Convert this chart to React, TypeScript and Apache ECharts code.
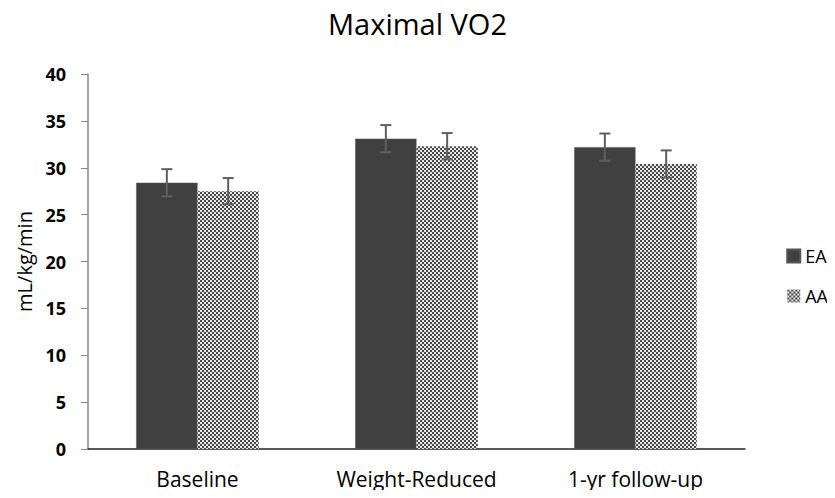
import React, { useEffect, useRef } from "react";
import * as echarts from "echarts";

const categories = ["Baseline", "Weight-Reduced", "1-yr follow-up"];
const eaValues = [28.4, 33.1, 32.2];
const aaValues = [27.5, 32.3, 30.4];
const eaErr = [1.45, 1.45, 1.45];
const aaErr = [1.4, 1.4, 1.45];
const yTicks = [0, 5, 10, 15, 20, 25, 30, 35, 40];

const FONT = "'Open Sans', 'Noto Sans', sans-serif";
const GAP = 0.44;

function makePattern() {
  const c = document.createElement("canvas");
  c.width = 4;
  c.height = 4;
  const ctx = c.getContext("2d")!;
  ctx.fillStyle = "#e6e6e6";
  ctx.fillRect(0, 0, 4, 4);
  ctx.fillStyle = "#4a4a4a";
  ctx.fillRect(0, 0, 2, 2);
  ctx.fillRect(2, 2, 2, 2);
  return c;
}

export default function App() {
  const ref = useRef<HTMLDivElement>(null);
  useEffect(() => {
    if (!ref.current) return;
    const chart = echarts.init(ref.current, undefined, { renderer: "svg" });
    const pattern = makePattern();
    const errSeries = (vals: number[], errs: number[], sign: number, name: string) => ({
      type: "custom",
      name,
      z: 10,
      silent: true,
      data: vals.map((v, i) => [i, v, errs[i]]),
      renderItem: (params: any, api: any) => {
        const i = api.value(0);
        const v = api.value(1);
        const e = api.value(2);
        const band = api.size([1, 0])[0];
        const off = (band * (1 - GAP)) / 4;
        const c = api.coord([i, v]);
        const x = c[0] + sign * off;
        const yTop = api.coord([i, v + e])[1];
        const yBot = api.coord([i, v - e])[1];
        const hw = 5.5;
        const style = { stroke: "#5f5f5f", lineWidth: 2 };
        return {
          type: "group",
          children: [
            { type: "line", shape: { x1: x, y1: yTop, x2: x, y2: yBot }, style },
            { type: "line", shape: { x1: x - hw, y1: yTop, x2: x + hw, y2: yTop }, style },
            { type: "line", shape: { x1: x - hw, y1: yBot, x2: x + hw, y2: yBot }, style },
          ],
        };
      },
    });
    chart.setOption({
      animation: false,
      backgroundColor: "#ffffff",
      title: {
        text: "Maximal VO2",
        left: "center",
        top: 4,
        textStyle: { fontFamily: FONT, fontSize: 29, fontWeight: "normal", color: "#000" },
      },
      grid: { left: 88, right: 90, top: 74, bottom: 49 },
      legend: {
        orient: "vertical",
        right: 2,
        top: 241,
        itemGap: 20,
        itemWidth: 13,
        itemHeight: 13,
        icon: "rect",
        data: ["EA", "AA"],
        textStyle: { fontFamily: FONT, fontSize: 18, lineHeight: 20, color: "#000" },
      },
      xAxis: {
        type: "category",
        data: categories,
        axisLine: { lineStyle: { color: "#222", width: 1.5 } },
        axisTick: { show: false },
        axisLabel: { fontFamily: FONT, fontSize: 21, color: "#000", margin: 19 },
      },
      yAxis: {
        type: "value",
        min: yTicks[0],
        max: yTicks[yTicks.length - 1],
        interval: 5,
        name: "mL/kg/min",
        nameLocation: "middle",
        nameGap: 45,
        nameTextStyle: { fontFamily: FONT, fontSize: 20, color: "#000" },
        axisLine: { show: true, lineStyle: { color: "#888", width: 1.5 } },
        axisTick: { show: true, length: 7, lineStyle: { color: "#888" } },
        splitLine: { show: false },
        axisLabel: { fontFamily: FONT, fontSize: 18, fontWeight: "bold", color: "#000", margin: 22 },
      },
      series: [
        {
          type: "bar",
          name: "EA",
          data: eaValues,
          barGap: "0%",
          barCategoryGap: GAP * 100 + "%",
          itemStyle: { color: "#404040", borderColor: "#555", borderWidth: 0.5 },
        },
        {
          type: "bar",
          name: "AA",
          data: aaValues,
          itemStyle: { color: { image: pattern, repeat: "repeat" } as any },
        },
        errSeries(eaValues, eaErr, -1, "EAerr"),
        errSeries(aaValues, aaErr, 1, "AAerr"),
      ],
    });
    return () => chart.dispose();
  }, []);
  return <div ref={ref} style={{ width: 835, height: 498, margin: -8 }} />;
}
